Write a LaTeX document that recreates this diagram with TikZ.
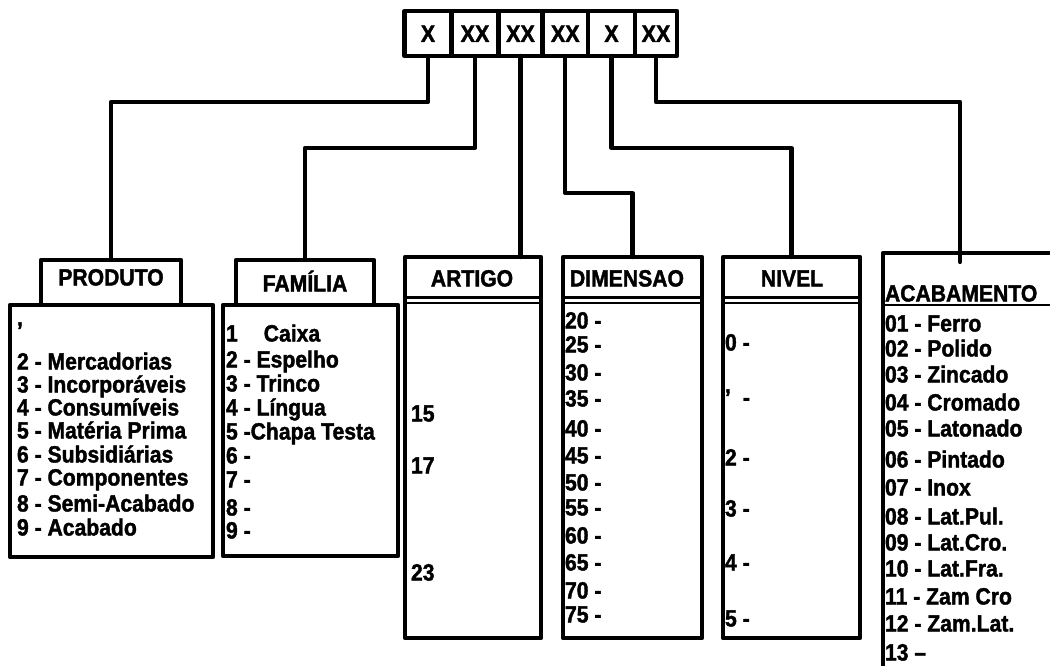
\documentclass[tikz,border=0pt]{standalone}
\usepackage{fontspec}
\newfontfamily\nf[FakeStretch=0.9,FakeBold=1.6]{Liberation Sans}
\begin{document}
\begin{tikzpicture}[x=1pt,y=-1pt,
  ln/.style={line width=4.2pt,line join=round,line cap=round},
  thin2/.style={line width=2.6pt},
  txt/.style={inner sep=0pt,outer sep=0pt,anchor=west,font=\nf\bfseries\fontsize{23.5}{23.5}\selectfont,text height=17pt,text depth=0pt},
  ttl/.style={txt,anchor=center},
  bx/.style={draw,rectangle,line width=4.2pt,line join=round,inner sep=0pt,outer sep=0pt},
  cell/.style={bx,minimum height=45pt,font=\nf\bfseries\fontsize{24}{24}\selectfont,text height=17pt,text depth=0pt}
]
\fill[white] (0,0) rectangle (1050,666);
\useasboundingbox (0,0) rectangle (1050,666);

% ---- list texts (drawn first, boxes drawn over them)
\foreach \t/\yy [count=\i] in {{’}/330,{2 - Mercadorias}/361,{3 - Incorporáveis}/384,{4 - Consumíveis}/407,{5 - Matéria Prima}/430,{6 - Subsidiárias}/454,{7 - Componentes}/477,{8 - Semi-Acabado}/503,{9 - Acabado}/527}
  \node[txt] (p\i) at (17,\yy) {\t};

\foreach \t/\yy [count=\i] in {{1\hspace{26pt}Caixa}/333,{2 - Espelho}/359,{3 - Trinco}/383,{4 - Língua}/407,{5 -Chapa Testa}/431,{6 -}/455,{7 -}/479,{8 -}/507,{9 -}/530}
  \node[txt] (f\i) at (226,\yy) {\t};

\foreach \t/\yy [count=\i] in {15/413,17/465,23/572}
  \node[txt] (a\i) at (411,\yy) {\t};

\foreach \t/\yy [count=\i] in {{20 -}/320,{25 -}/344,{30 -}/372,{35 -}/398,{40 -}/428,{45 -}/455,{50 -}/482,{55 -}/507,{60 -}/535,{65 -}/562,{70 -}/590,{75 -}/614}
  \node[txt] (d\i) at (565,\yy) {\t};

\foreach \t/\yy [count=\i] in {{0 -}/342,{\makebox[12pt][l]{’} -}/397,{2 -}/457,{3 -}/508,{4 -}/562,{5 -}/618}
  \node[txt] (n\i) at (725,\yy) {\t};

\foreach \t/\yy [count=\i] in {{01 - Ferro}/323,{02 - Polido}/348,{03 - Zincado}/374,{04 - Cromado}/402,{05 - Latonado}/428,{06 - Pintado}/459,{07 - Inox}/487,{08 - Lat.Pul.}/516,{09 - Lat.Cro.}/542,{10 - Lat.Fra.}/568,{11 - Zam Cro}/596,{12 - Zam.Lat.}/623,{13 –}/652}
  \node[txt] (ac\i) at (885,\yy) {\t};

% ---- titles
\node[ttl] (produtoL) at (111,277) {PRODUTO};
\node[ttl] (familiaL) at (305,283) {FAMÍLIA};
\node[ttl] (artigoL) at (472,278) {ARTIGO};
\node[txt] (dimensaoL) at (570,278) {DIMENSAO};
\node[ttl] (nivelL) at (792,278) {NIVEL};
\node[txt] (acabL) at (885,293) {ACABAMENTO};

% ---- top code cells
\node[cell,minimum width=47pt] (c1) at (428,33.5) {X};
\node[cell,minimum width=47pt] (c2) at (475,33.5) {XX};
\node[cell,minimum width=44pt] (c3) at (520.5,33.5) {XX};
\node[cell,minimum width=45.5pt] (c4) at (565.25,33.5) {XX};
\node[cell,minimum width=47pt] (c5) at (611.5,33.5) {X};
\node[cell,minimum width=42pt] (c6) at (656,33.5) {XX};

% ---- boxes
\node[bx,minimum width=140pt,minimum height=45pt] (produtoT) at (111,282.5) {};
\node[bx,minimum width=203pt,minimum height=252pt] (produtoB) at (111.5,431) {};
\node[bx,minimum width=138pt,minimum height=45pt] (familiaT) at (305,282.5) {};
\node[bx,minimum width=175pt,minimum height=251pt] (familiaB) at (310.5,430.5) {};
\node[bx,minimum width=136pt,minimum height=381pt] (artigo) at (473,447.5) {};
\node[bx,minimum width=139pt,minimum height=381pt] (dimensao) at (632.5,447.5) {};
\node[bx,minimum width=137pt,minimum height=381pt] (nivel) at (791.5,447.5) {};
\node[bx,minimum width=177pt,minimum height=422pt] (acab) at (971.5,464) {};

% ---- separators under titles
\coordinate (hA) at (0,297.5);
\coordinate (hB) at (0,303);
\coordinate (hC) at (0,305);
\foreach \b in {artigo,dimensao,nivel}{
  \draw[thin2] (\b.west |- hA) -- (\b.east |- hA);
  \draw[thin2] (\b.west |- hB) -- (\b.east |- hB);
}
\draw[thin2] (acab.west |- hC) -- (acab.east |- hC);

% ---- connectors
\coordinate (r1) at (0,102);
\coordinate (r2) at (0,148);
\coordinate (r3) at (0,193);
\coordinate (acabIn) at (960,262);
\draw[ln] (c1.south) |- (produtoT.north |- r1) -- (produtoT.north);
\draw[ln] (c2.south) |- (familiaT.north |- r2) -- (familiaT.north);
\draw[ln] (c3.south) -- (c3.south |- artigo.north);
\draw[ln] (c4.south) |- (dimensao.north |- r3) -- (dimensao.north);
\draw[ln] (c5.south) |- (nivel.north |- r2) -- (nivel.north);
\draw[ln] (c6.south) |- (acabIn |- r1) -- (acabIn);
\end{tikzpicture}
\end{document}
